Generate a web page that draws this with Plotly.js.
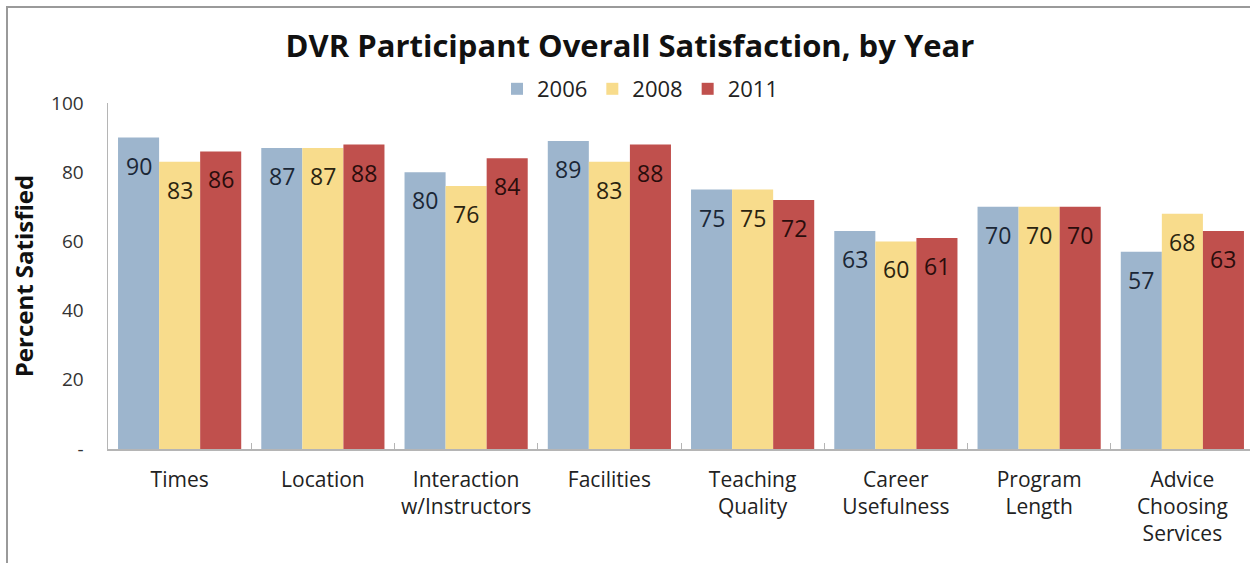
<!DOCTYPE html>
<html>
<head>
<meta charset="utf-8">
<script src="https://cdn.plot.ly/plotly-3.0.1.min.js"></script>
<style>
  html, body { margin: 0; padding: 0; overflow: hidden; background: #fff; }
  #wrap { position: relative; width: 1250px; height: 563px; overflow: hidden; }
  #chart { position: absolute; left: 0; top: 0; }
  #frame { position: absolute; left: 6px; top: 6px; width: 1260px; height: 600px;
           border-top: 2px solid #9a9a9a; border-left: 2px solid #9a9a9a; pointer-events: none; }
</style>
</head>
<body>
<div id="wrap"><div id="chart"></div><div id="frame"></div></div>
<script>
const categories = ["Times", "Location", "Interaction<br>w/Instructors", "Facilities",
  "Teaching<br>Quality", "Career<br>Usefulness", "Program<br>Length", "Advice<br>Choosing<br>Services"];
const seriesNames = ["2006", "2008", "2011"];
const values2006 = [90, 87, 80, 89, 75, 63, 70, 57];
const values2008 = [83, 87, 76, 83, 75, 60, 70, 68];
const values2011 = [86, 88, 84, 88, 72, 61, 70, 63];
const yTickVals = [0, 20, 40, 60, 80, 100];
const yTickText = ["-", "20", "40", "60", "80", "100"];

const colors = ["#9db5cd", "#f8dc8c", "#c0504d"];
const labelColors = ["#1b2736", "#2b2410", "#2a0d0c"];
const allValues = [values2006, values2008, values2011];

const W = 1254, H = 563;
const margin = { l: 108, r: 0, t: 103, b: 114 };
const bargap = 0.14;
const plotW = W - margin.l - margin.r;
const barW = plotW / categories.length * (1 - bargap) / seriesNames.length;

const traces = seriesNames.map((name, i) => ({
  type: "bar",
  name: name,
  x: categories,
  y: allValues[i],
  marker: { color: colors[i] },
  hoverinfo: "x+y+name"
}));

const annotations = [];
allValues.forEach((vals, i) => {
  vals.forEach((v, j) => {
    annotations.push({
      x: categories[j], y: v, xref: "x", yref: "y",
      text: String(v), showarrow: false,
      yanchor: "top", yshift: -10,
      xshift: (i - 1) * barW,
      font: { family: "Open Sans, sans-serif", size: 23, color: labelColors[i] }
    });
  });
});

const layout = {
  width: W, height: H,
  margin: margin,
  paper_bgcolor: "rgba(0,0,0,0)",
  plot_bgcolor: "rgba(0,0,0,0)",
  barmode: "group",
  bargap: bargap,
  bargroupgap: 0,
  font: { family: "Open Sans, sans-serif", color: "#222" },
  title: {
    text: "<b>DVR Participant Overall Satisfaction, by Year</b>",
    font: { family: "Open Sans, sans-serif", size: 31, color: "#111" },
    x: 630 / W, xref: "container", xanchor: "center",
    y: 1 - 46 / H, yref: "container", yanchor: "middle"
  },
  legend: {
    orientation: "h",
    x: (640 - margin.l) / plotW, xanchor: "center",
    y: 1 + (103 - 89) / (H - margin.t - margin.b), yanchor: "middle",
    font: { family: "Open Sans, sans-serif", size: 22, color: "#222" },
    traceorder: "normal",
    itemwidth: 30
  },
  xaxis: {
    type: "category",
    showline: true, linecolor: "#b5b5b5", linewidth: 1.5,
    ticks: "inside", tickson: "boundaries", ticklen: 6, tickcolor: "#b5b5b5",
    tickfont: { family: "Open Sans, sans-serif", size: 21, color: "#222" },
    ticklabelstandoff: 11,
    showgrid: false, zeroline: false,
    fixedrange: true
  },
  yaxis: {
    range: [0, 100],
    tickvals: yTickVals, ticktext: yTickText,
    showline: true, linecolor: "#b5b5b5", linewidth: 1.5,
    ticks: "", showgrid: false, zeroline: false,
    tickfont: { family: "Open Sans, sans-serif", size: 19, color: "#333" },
    ticklabelstandoff: 19,
    title: {
      text: "<b>Percent Satisfied</b>",
      font: { family: "Open Sans, sans-serif", size: 24, color: "#111" },
      standoff: 10
    },
    fixedrange: true
  },
  annotations: annotations,
  showlegend: true
};

Plotly.newPlot("chart", traces, layout, { displayModeBar: false, staticPlot: true });
</script>
</body>
</html>
